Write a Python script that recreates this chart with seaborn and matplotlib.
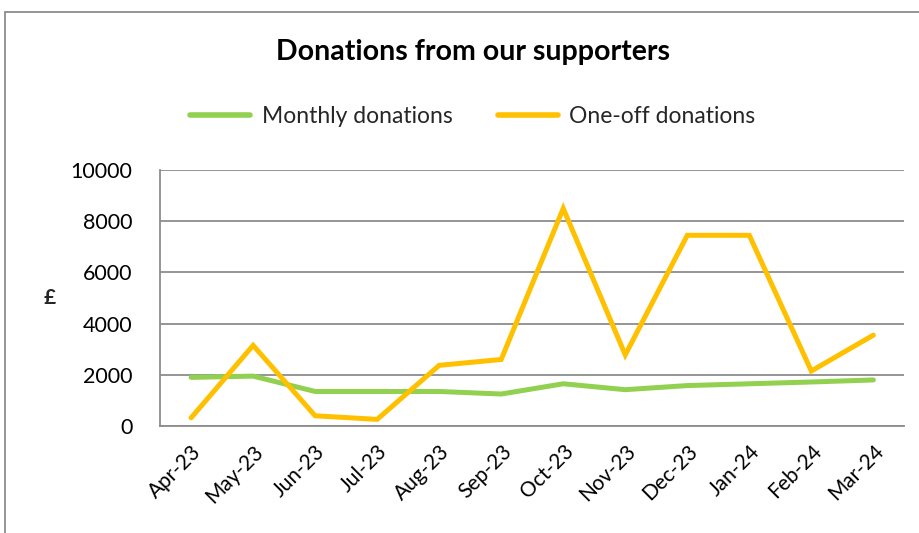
import matplotlib
matplotlib.use("Agg")
import matplotlib.pyplot as plt
import seaborn as sns
import pandas as pd
from matplotlib.patches import Rectangle

months = ["Apr-23", "May-23", "Jun-23", "Jul-23", "Aug-23", "Sep-23",
          "Oct-23", "Nov-23", "Dec-23", "Jan-24", "Feb-24", "Mar-24"]
monthly = [1900, 1950, 1350, 1350, 1350, 1250, 1650, 1420, 1580, 1650, 1720, 1800]
one_off = [320, 3150, 400, 260, 2370, 2600, 8500, 2780, 7450, 7450, 2150, 3550]
series_names = ["Monthly donations", "One-off donations"]
colors = ["#92D050", "#FFC000"]
y_ticks = [0, 2000, 4000, 6000, 8000, 10000]

df = pd.DataFrame({
    "Month": months * 2,
    "Value": monthly + one_off,
    "Series": [series_names[0]] * len(months) + [series_names[1]] * len(months),
})

sns.set_theme(style="white")
plt.rcParams["font.family"] = ["Lato", "DejaVu Sans"]

fig = plt.figure(figsize=(9.2, 5.33), dpi=100)
ax = fig.add_axes([0.174, 0.2007, 0.809, 0.4803])

sns.lineplot(data=df, x="Month", y="Value", hue="Series", palette=colors,
             linewidth=3.6, sort=False, ax=ax, legend=True)
for line in ax.get_lines():
    line.set_solid_capstyle("round")
    line.set_solid_joinstyle("miter")

ax.set_xlim(-0.5, len(months) - 0.5)
ax.set_ylim(0, 10000)
ax.set_yticks(y_ticks)
ax.set_yticklabels([str(v) for v in y_ticks], fontsize=15.5, color="black")
ax.yaxis.grid(True, color="#8c8c8c", linewidth=1.3)
ax.set_axisbelow(True)
ax.tick_params(axis="x", labelsize=15, labelcolor="black", pad=5)
ax.tick_params(axis="y", pad=14)
plt.setp(ax.get_xticklabels(), rotation=45, ha="right", rotation_mode="anchor")

for side in ["top", "right"]:
    ax.spines[side].set_visible(False)
for side in ["left", "bottom"]:
    ax.spines[side].set_color("#8c8c8c")
    ax.spines[side].set_linewidth(1.3)

ax.set_xlabel("")
ax.set_ylabel("£", rotation=0, fontsize=15, fontweight="bold", va="center")
ax.yaxis.set_label_coords(-0.148, 0.5)

leg = ax.legend(loc="center", ncol=2, frameon=False, fontsize=16.5, handlelength=2.6,
                columnspacing=2.0, handletextpad=0.5)
for h in leg.get_lines():
    h.set_linewidth(4)
leg.set_bbox_to_anchor((0.514, 0.782), transform=fig.transFigure)

fig.text(0.514, 0.902, "Donations from our supporters", ha="center", va="center",
         fontsize=20.5, fontweight="bold", color="black")

fig.patches.append(Rectangle((0.0055, -0.05), 1.2, 1.027, transform=fig.transFigure,
                             fill=False, edgecolor="#8c8c8c", linewidth=1.3))

fig.savefig("out.png", dpi=100)
